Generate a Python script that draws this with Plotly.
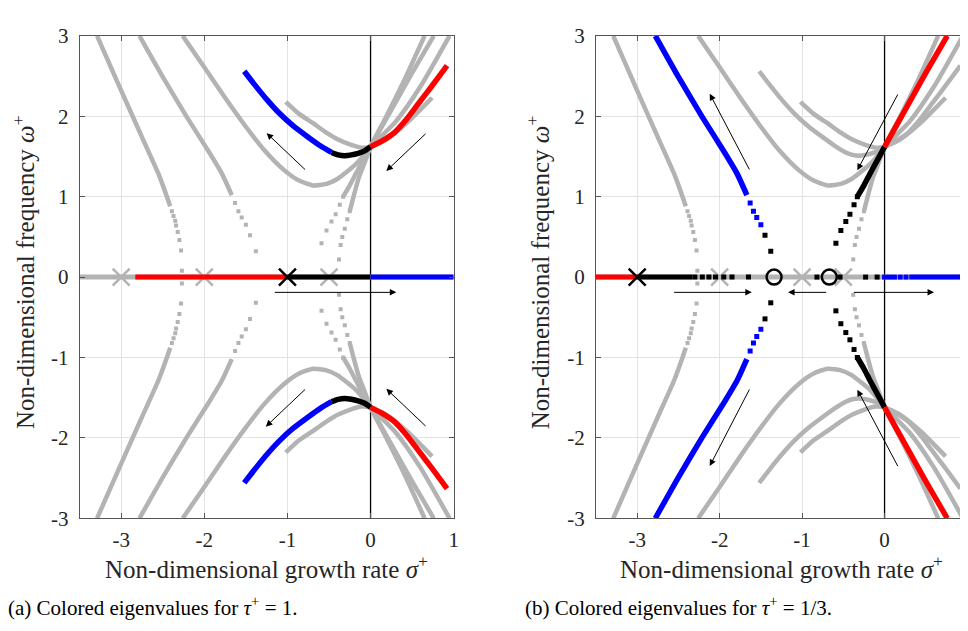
import plotly.graph_objects as go

GRAY = "#b3b3b3"
BLUE = "#0000ff"
RED = "#ff0000"
BLACK = "#000000"
FONT = "Liberation Serif"

# ---------------- data (upper half-plane; conjugates drawn mirrored) ----------------
# Pole positions (one per tau value)
poles_sigma = [-3.0, -2.0, -1.0, -0.5]
pole_tau1 = -1.0
pole_tau13 = -3.0

# Locus A (far left)
A_sig = [-3.29, -3.00, -2.75, -2.55, -2.45, -2.41]
A_om = [3.00, 2.32, 1.74, 1.28, 1.00, 0.88]
A_dot_sig = [-2.39, -2.37, -2.35, -2.34, -2.32, -2.30, -2.28, -2.27]
A_dot_om = [0.82, 0.76, 0.70, 0.64, 0.56, 0.46, 0.33, 0.08]

# Locus C (parabola-like, min near -0.69)
C_sig = [-2.26, -2.00, -1.75, -1.50, -1.28, -1.04, -0.86, -0.69, -0.53, -0.40, -0.17, 0.0, 0.30, 0.60, 0.95]
C_om = [3.00, 2.61, 2.23, 1.87, 1.58, 1.33, 1.20, 1.14, 1.16, 1.22, 1.41, 1.62, 1.93, 2.37, 3.00]

# Locus D (short upper arc)
D_sig = [-1.02, -0.86, -0.70, -0.55, -0.39, -0.25, -0.11, 0.0, 0.20, 0.45, 0.74]
D_om = [2.18, 2.03, 1.92, 1.81, 1.71, 1.65, 1.61, 1.62, 1.72, 1.93, 2.23]

# Locus E (dotted from real axis near -0.37)
E_dot_sig = [-0.38, -0.36, -0.34, -0.31, -0.28, -0.25]
E_dot_om = [0.22, 0.40, 0.50, 0.60, 0.72, 0.82]
E_sig = [-0.25, -0.20, -0.14, -0.08, 0.0, 0.20, 0.42, 0.65]
E_om = [0.82, 1.02, 1.24, 1.40, 1.62, 2.02, 2.48, 3.00]

# tau+ = 1 locus
T1_blue_sig = [-1.52, -1.40, -1.25, -1.10, -0.93, -0.75, -0.60, -0.47]
T1_blue_om = [2.56, 2.40, 2.21, 2.04, 1.88, 1.74, 1.63, 1.55]
T1_black_sig = [-0.47, -0.39, -0.31, -0.23, -0.15, -0.07, 0.0]
T1_black_om = [1.55, 1.52, 1.51, 1.52, 1.54, 1.57, 1.62]
T1_red_sig = [0.0, 0.15, 0.29, 0.43, 0.57, 0.74, 0.92]
T1_red_om = [1.62, 1.70, 1.80, 1.96, 2.15, 2.38, 2.63]
T1_axis_red = [-2.83, -1.0]
T1_axis_black = [-1.0, 0.0]
T1_axis_blue = [0.0, 1.0]

# tau+ = 1/3 locus
T3_blue_sig = [-2.78, -2.50, -2.21, -1.94, -1.79, -1.67]
T3_blue_om = [3.00, 2.49, 1.99, 1.55, 1.29, 1.02]
T3_bdot_sig = [-1.63, -1.59, -1.55, -1.50]
T3_bdot_om = [0.92, 0.82, 0.74, 0.65]
T3_kdot_sig = [-1.45, -1.38]
T3_kdot_om = [0.52, 0.32]
T3_k2dot_sig = [-0.59, -0.53, -0.47, -0.42, -0.37, -0.33]
T3_k2dot_om = [0.42, 0.58, 0.69, 0.78, 0.90, 1.00]
T3_black_sig = [-0.33, -0.25, -0.18, -0.10, 0.0]
T3_black_om = [1.00, 1.14, 1.28, 1.43, 1.62]
T3_red_sig = [0.0, 0.25, 0.50, 0.76]
T3_red_om = [1.62, 2.08, 2.54, 3.00]
T3_circles = [-1.34, -0.67]
T3_axis_red = [-3.5, -3.0]
T3_axis_black = [-3.0, -2.33]
T3_axis_kdash = [-2.30, -2.21, -2.13, -2.05, -1.95, -1.85, -1.65, -0.82, -0.54, -0.23, -0.09]
T3_axis_bdash = [0.0, 0.06, 0.12, 0.19, 0.26]
T3_axis_blue = [0.30, 1.0]

# tick labels
x_ticks = [-3, -2, -1, 0, 1]
x_labels = ["-3", "-2", "-1", "0", "1"]
y_ticks = [-3, -2, -1, 0, 1, 2, 3]
y_labels = ["-3", "-2", "-1", "0", "1", "2", "3"]

# arrows: (tail_sigma, tail_omega, head_sigma, head_omega)
arrows_left = [(-0.77, 1.32, -1.25, 1.79), (0.68, 1.80, 0.19, 1.32), (-1.17, -0.19, 0.31, -0.19),
               (-0.77, -1.38, -1.26, -1.86), (0.68, -1.87, 0.19, -1.39)]
arrows_right = [(-2.57, -0.19, -1.61, -0.19), (-0.69, -0.19, -1.17, -0.19), (-0.39, -0.19, 0.60, -0.19),
                (-1.63, 1.32, -2.12, 2.28), (0.17, 2.29, -0.33, 1.33),
                (-1.63, -1.38, -2.12, -2.35), (0.17, -2.37, -0.33, -1.40)]

fig = go.Figure()


def ax(col):
    return ("x", "y") if col == 1 else ("x2", "y2")


def curve(sig, om, color, width, col, mirror=True):
    xa, ya = ax(col)
    signs = (1, -1) if mirror else (1,)
    for s in signs:
        fig.add_trace(go.Scatter(x=sig, y=[s * v for v in om], mode="lines",
                                 line=dict(color=color, width=width, shape="spline", smoothing=0.6),
                                 xaxis=xa, yaxis=ya, showlegend=False, hoverinfo="skip"))


def dots(sig, om, color, size, col, mirror=True):
    xa, ya = ax(col)
    signs = (1, -1) if mirror else (1,)
    for s in signs:
        fig.add_trace(go.Scatter(x=sig, y=[s * v for v in om], mode="markers",
                                 marker=dict(symbol="square", color=color, size=size, line=dict(width=0)),
                                 xaxis=xa, yaxis=ya, showlegend=False, hoverinfo="skip"))


def axis_seg(seg, color, col, width=5):
    curve(seg, [0, 0], color, width, col, mirror=False)


def crosses(sig, color, col):
    xa, ya = ax(col)
    fig.add_trace(go.Scatter(x=sig, y=[0] * len(sig), mode="markers",
                             marker=dict(symbol="x-thin", size=17, color=color,
                                         line=dict(color=color, width=2.5)),
                             xaxis=xa, yaxis=ya, showlegend=False, hoverinfo="skip"))


GW = 4.5   # gray line width
CW = 5.5   # colored line width

for col in (1, 2):
    # imaginary axis
    curve([0, 0], [-3, 3], BLACK, 1.3, col, mirror=False)
    # base real axis
    axis_seg([-3.5, 1.0], GRAY, col)
    # common gray loci
    curve(A_sig, A_om, GRAY, GW, col)
    dots(A_dot_sig, A_dot_om, GRAY, 4, col)
    curve(C_sig, C_om, GRAY, GW, col)
    curve(D_sig, D_om, GRAY, GW, col)
    dots(E_dot_sig, E_dot_om, GRAY, 4, col)
    curve(E_sig, E_om, GRAY, GW, col)
    crosses([p for p in poles_sigma if p != (pole_tau1 if col == 1 else pole_tau13)], GRAY, col)

# ---- left: tau=1 colored, tau=1/3 gray
curve(T3_blue_sig, T3_blue_om, GRAY, GW, 1)
dots(T3_bdot_sig + T3_kdot_sig, T3_bdot_om + T3_kdot_om, GRAY, 4, 1)
dots(T3_k2dot_sig, T3_k2dot_om, GRAY, 4, 1)
curve(T3_black_sig + T3_red_sig[1:], T3_black_om + T3_red_om[1:], GRAY, GW, 1)

curve(T1_blue_sig, T1_blue_om, BLUE, CW, 1)
curve(T1_black_sig, T1_black_om, BLACK, CW, 1)
curve(T1_red_sig, T1_red_om, RED, CW, 1)
axis_seg(T1_axis_red, RED, 1)
axis_seg(T1_axis_black, BLACK, 1)
axis_seg(T1_axis_blue, BLUE, 1)
crosses([pole_tau1], BLACK, 1)

# ---- right: tau=1/3 colored, tau=1 gray
curve(T1_blue_sig + T1_black_sig[1:] + T1_red_sig[1:], T1_blue_om + T1_black_om[1:] + T1_red_om[1:], GRAY, GW, 2)

curve(T3_blue_sig, T3_blue_om, BLUE, CW, 2)
dots(T3_bdot_sig, T3_bdot_om, BLUE, 5, 2)
dots(T3_kdot_sig, T3_kdot_om, BLACK, 5, 2)
dots(T3_k2dot_sig, T3_k2dot_om, BLACK, 5, 2)
curve(T3_black_sig, T3_black_om, BLACK, CW, 2)
curve(T3_red_sig, T3_red_om, RED, CW, 2)
axis_seg(T3_axis_red, RED, 2)
axis_seg(T3_axis_black, BLACK, 2)
dots(T3_axis_kdash, [0] * len(T3_axis_kdash), BLACK, 5, 2, mirror=False)
dots(T3_axis_bdash, [0] * len(T3_axis_bdash), BLUE, 5, 2, mirror=False)
axis_seg(T3_axis_blue, BLUE, 2)
crosses([pole_tau13], BLACK, 2)
fig.add_trace(go.Scatter(x=T3_circles, y=[0] * len(T3_circles), mode="markers",
                         marker=dict(symbol="circle-open", size=15, color=BLACK,
                                     line=dict(color=BLACK, width=2.5)),
                         xaxis="x2", yaxis="y2", showlegend=False, hoverinfo="skip"))

annotations = []
for arrs, xr, yr in ((arrows_left, "x", "y"), (arrows_right, "x2", "y2")):
    for (ts, to, hs, ho) in arrs:
        annotations.append(dict(x=hs, y=ho, ax=ts, ay=to, xref=xr, yref=yr, axref=xr, ayref=yr,
                                text="", showarrow=True, arrowhead=2, arrowsize=1.3,
                                arrowwidth=1, arrowcolor=BLACK))

W, H = 968, 631
L_dom = [72 / W, 448 / W]
R_dom = [591 / W, 964 / W]
Y_dom = [1 - 518 / H, 1 - 16.5 / H]

txt = dict(family=FONT, size=25, color="#262626")
for cx, cy in ((16, 262), (533, 262)):
    annotations.append(dict(x=cx / W, y=1 - cy / H, xref="paper", yref="paper", showarrow=False,
                            text="Non-dimensional frequency <i>ω</i><sup>+</sup>", textangle=-90,
                            font=txt, xanchor="center", yanchor="middle"))
for cx in ((72 + 448) / 2, (591 + 964) / 2):
    annotations.append(dict(x=cx / W, y=1 - 569 / H, xref="paper", yref="paper", showarrow=False,
                            text="Non-dimensional growth rate <i>σ</i><sup>+</sup>",
                            font=txt, xanchor="center", yanchor="middle"))
cap = dict(family=FONT, size=21, color=BLACK)
annotations.append(dict(x=-2 / W, y=1 - 610 / H, xref="paper", yref="paper", showarrow=False,
                        text="(a) Colored eigenvalues for <i>τ</i><sup>+</sup> = 1.", font=cap,
                        xanchor="left", yanchor="middle"))
annotations.append(dict(x=518 / W, y=1 - 610 / H, xref="paper", yref="paper", showarrow=False,
                        text="(b) Colored eigenvalues for <i>τ</i><sup>+</sup> = 1/3.", font=cap,
                        xanchor="left", yanchor="middle"))

axstyle = dict(showgrid=True, gridcolor="#e3e3e3", gridwidth=1, zeroline=False, showline=True,
               linecolor="#555555", linewidth=1, mirror="ticks", ticks="inside", ticklen=5,
               tickcolor="#555555", tickfont=dict(family=FONT, size=21, color="#262626"))

fig.update_layout(
    width=W, height=H, margin=dict(l=0, r=0, t=0, b=0),
    paper_bgcolor="white", plot_bgcolor="white",
    xaxis=dict(domain=L_dom, range=[-3.5, 1], tickvals=x_ticks, ticktext=x_labels, anchor="y",
               ticklabelstandoff=3, **axstyle),
    yaxis=dict(domain=Y_dom, range=[-3, 3], tickvals=y_ticks, ticktext=y_labels, anchor="x",
               ticklabelstandoff=6, **axstyle),
    xaxis2=dict(domain=R_dom, range=[-3.5, 1], tickvals=x_ticks, ticktext=x_labels, anchor="y2",
                ticklabelstandoff=3, **axstyle),
    yaxis2=dict(domain=Y_dom, range=[-3, 3], tickvals=y_ticks, ticktext=y_labels, anchor="x2",
                ticklabelstandoff=6, **axstyle),
    annotations=annotations,
)

fig.write_html("out.html")
